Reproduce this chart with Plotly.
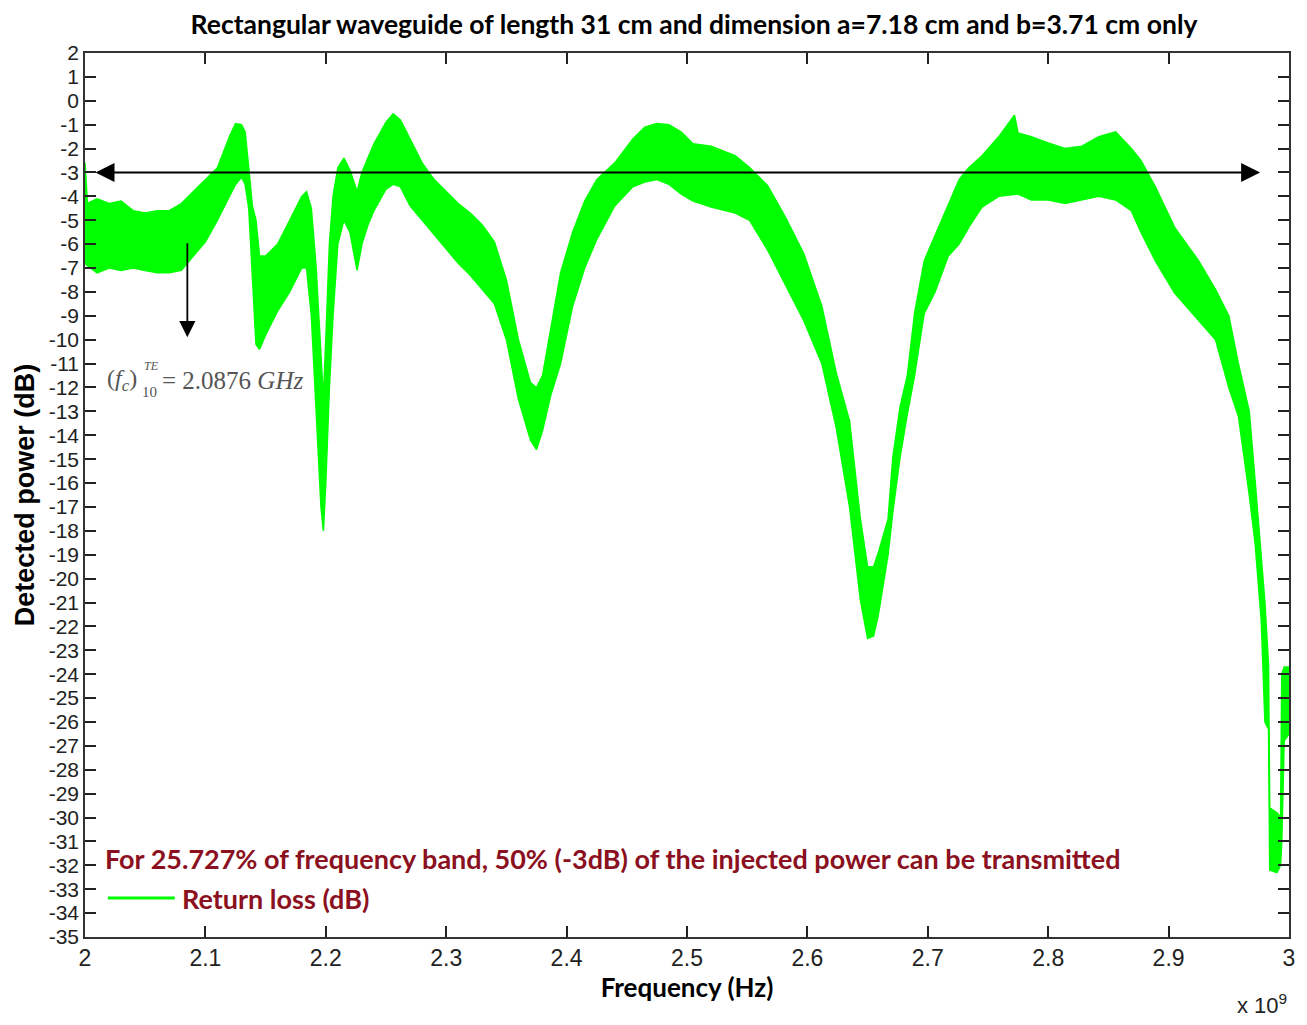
import plotly.graph_objects as go

# Frequency in units of 1e9 Hz
freq = [2.000, 2.002, 2.010, 2.020, 2.030, 2.040, 2.050, 2.060, 2.070, 2.080,
        2.090, 2.100, 2.110, 2.120, 2.125, 2.130, 2.133, 2.136, 2.139, 2.142,
        2.145, 2.150, 2.160, 2.170, 2.180, 2.184, 2.188, 2.192, 2.196, 2.198,
        2.200, 2.203, 2.206, 2.210, 2.215, 2.220, 2.226, 2.230, 2.235, 2.240,
        2.250, 2.256, 2.262, 2.270, 2.280, 2.290, 2.300, 2.310, 2.320, 2.330,
        2.340, 2.350, 2.360, 2.370, 2.375, 2.380, 2.387, 2.395, 2.405, 2.415,
        2.425, 2.440, 2.455, 2.465, 2.475, 2.485, 2.495, 2.505, 2.520, 2.540,
        2.552, 2.567, 2.582, 2.597, 2.612, 2.624, 2.635, 2.644, 2.650, 2.655,
        2.659, 2.667, 2.671, 2.677, 2.683, 2.689, 2.697, 2.706, 2.717, 2.726,
        2.734, 2.745, 2.759, 2.772, 2.775, 2.786, 2.800, 2.814, 2.828, 2.842,
        2.856, 2.869, 2.877, 2.889, 2.905, 2.925, 2.939, 2.950, 2.958, 2.967,
        2.972, 2.977, 2.980, 2.983, 2.984, 2.990, 2.993, 2.994, 2.996, 3.000]

# Upper and lower envelope of the (densely oscillating) return-loss trace, dB
upper = [-2.6, -4.3, -4.1, -4.3, -4.2, -4.6, -4.7, -4.6, -4.6, -4.3,
         -3.8, -3.3, -2.8, -1.5, -0.95, -1.0, -1.3, -2.8, -4.4, -5.0,
         -6.5, -6.5, -6.0, -5.0, -4.0, -3.8, -4.5, -7.0, -11.0, -12.5,
         -10.0, -6.0, -4.0, -2.8, -2.4, -2.9, -3.8, -3.0, -2.4, -1.8,
         -0.9, -0.55, -0.8, -1.6, -2.6, -3.3, -3.8, -4.3, -4.7, -5.2,
         -5.9, -7.5, -10.0, -11.8, -12.0, -11.5, -9.5, -7.2, -5.5, -4.2,
         -3.3, -2.6, -1.6, -1.1, -0.95, -1.0, -1.3, -1.8, -1.9, -2.3,
         -2.8, -3.55, -4.9, -6.4, -8.6, -11.4, -13.4, -17.5, -19.5, -19.5,
         -18.9, -17.5, -14.9, -12.8, -11.5, -8.9, -6.7, -5.65, -4.3, -3.3,
         -2.8, -2.3, -1.5, -0.6, -1.35, -1.5, -1.77, -2.0, -1.9, -1.5,
         -1.3, -2.0, -2.5, -3.6, -5.3, -6.7, -7.9, -9.0, -11.0, -13.0,
         -16.0, -19.0, -21.0, -23.6, -29.6, -29.8, -30.0, -24.0, -23.7, -23.7]

lower = [-6.8, -6.9, -7.2, -7.0, -7.1, -7.0, -7.1, -7.2, -7.2, -7.1,
         -6.5, -5.9, -5.0, -4.0, -3.5, -3.2, -3.5, -4.5, -7.5, -10.2,
         -10.4, -9.8, -8.8, -8.0, -7.0, -7.0, -9.0, -13.0, -17.0, -18.0,
         -16.0, -12.0, -9.0, -6.0, -5.0, -5.5, -7.1, -6.0, -5.2, -4.6,
         -3.7, -3.5, -3.6, -4.4, -5.0, -5.6, -6.2, -6.8, -7.3, -7.9,
         -8.5, -10.0, -12.5, -14.2, -14.6, -13.8, -12.3, -11.0, -8.6, -7.0,
         -5.8, -4.4, -3.6, -3.4, -3.3, -3.5, -3.9, -4.2, -4.45, -4.7,
         -5.0, -6.25, -7.75, -9.2, -11.0, -13.7, -17.0, -20.9, -22.5, -22.4,
         -21.5, -19.0, -17.2, -14.9, -13.1, -11.5, -8.9, -8.0, -6.5, -6.0,
         -5.3, -4.45, -4.0, -3.9, -3.9, -4.15, -4.15, -4.3, -4.15, -4.0,
         -4.15, -4.6, -5.5, -6.7, -8.05, -9.2, -10.0, -12.0, -13.2, -16.5,
         -18.6, -21.8, -26.0, -26.3, -32.2, -32.3, -32.0, -31.0, -26.8, -26.5]

x_ticks = [2.0, 2.1, 2.2, 2.3, 2.4, 2.5, 2.6, 2.7, 2.8, 2.9, 3.0]
x_labels = ["2", "2.1", "2.2", "2.3", "2.4", "2.5", "2.6", "2.7", "2.8", "2.9", "3"]
y_ticks = list(range(-35, 3))
y_labels = [str(v) for v in y_ticks]

half_power_level = -3
cutoff_freq = 2.0876

GREEN = "#00ff00"
DARKRED = "#8b1020"
TICKFONT = "Liberation Sans Narrow, Liberation Sans, Arial, sans-serif"
BOLDFONT = "Lato, Liberation Sans, sans-serif"

fig = go.Figure()
fig.add_trace(go.Scatter(x=freq, y=lower, mode="lines",
                         line=dict(color=GREEN, width=1.5),
                         showlegend=False, hoverinfo="skip"))
fig.add_trace(go.Scatter(x=freq, y=upper, mode="lines",
                         line=dict(color=GREEN, width=1.5),
                         fill="tonexty", fillcolor=GREEN,
                         name="Return loss (dB)", showlegend=False))

# -3 dB double-headed arrow
fig.add_annotation(x=2.976, y=half_power_level, ax=2.0075, ay=half_power_level,
                   xref="x", yref="y", axref="x", ayref="y", text="",
                   showarrow=True, arrowhead=2, startarrowhead=2,
                   arrowside="end+start", arrowsize=1.9, startarrowsize=1.9,
                   arrowwidth=2, arrowcolor="black")
# cutoff vertical arrow
fig.add_annotation(x=2.085, y=-9.9, ax=2.085, ay=-5.9,
                   xref="x", yref="y", axref="x", ayref="y", text="",
                   showarrow=True, arrowhead=2, arrowsize=1.8,
                   arrowwidth=1.8, arrowcolor="black")

# cutoff formula
SERIF = "Liberation Serif, Times New Roman, serif"
fig.add_annotation(x=2.0166, y=-11.69, xref="x", yref="y", xanchor="left",
                   text="(<i>f<sub>c</sub></i>)", showarrow=False,
                   font=dict(family=SERIF, size=24, color="#555555"))
fig.add_annotation(x=2.047, y=-11.1, xref="x", yref="y", xanchor="left",
                   text="<i>TE</i>", showarrow=False,
                   font=dict(family=SERIF, size=12, color="#555555"))
fig.add_annotation(x=2.046, y=-12.2, xref="x", yref="y", xanchor="left",
                   text="10", showarrow=False,
                   font=dict(family=SERIF, size=15, color="#555555"))
fig.add_annotation(x=2.0625, y=-11.69, xref="x", yref="y", xanchor="left",
                   text="= 2.0876 <i>GHz</i>", showarrow=False,
                   font=dict(family=SERIF, size=25, color="#555555"))

# statement text
fig.add_annotation(x=2.0149, y=-31.7, xref="x", yref="y", xanchor="left",
                   text="<b>For 25.727% of frequency band, 50% (-3dB) of the injected power can be transmitted</b>",
                   showarrow=False, font=dict(family=BOLDFONT, size=27, color=DARKRED))
# legend
fig.add_shape(type="line", x0=2.019, x1=2.0746, y0=-33.37, y1=-33.37,
              xref="x", yref="y", line=dict(color=GREEN, width=3))
fig.add_annotation(x=2.0788, y=-33.37, xref="x", yref="y", xanchor="left",
                   text="<b>Return loss (dB)</b>", showarrow=False,
                   font=dict(family=BOLDFONT, size=27, color=DARKRED))

# x10^9 multiplier
fig.add_annotation(x=1.0, y=-0.094, xref="paper", yref="paper", xanchor="right",
                   text="x 10<sup>9</sup>", showarrow=False,
                   font=dict(family=TICKFONT, size=22, color="#222222"))

fig.update_layout(
    width=1307, height=1025,
    margin=dict(l=85, r=16, t=53, b=88),
    paper_bgcolor="white", plot_bgcolor="white",
    title=dict(text="<b>Rectangular waveguide of length 31 cm and dimension a=7.18 cm and b=3.71 cm only</b>",
               x=0.531, xanchor="center", y=0.9756, yanchor="middle",
               font=dict(family=BOLDFONT, size=26.5, color="black")),
    showlegend=False,
)
fig.update_xaxes(range=[2, 3], tickvals=x_ticks, ticktext=x_labels,
                 ticks="inside", ticklen=11, tickwidth=1.5, tickcolor="#222222",
                 showline=True, linecolor="#333333", linewidth=1.5, mirror="ticks",
                 showgrid=False, zeroline=False,
                 tickfont=dict(family=TICKFONT, size=23, color="#222222"),
                 title=dict(text="<b>Frequency (Hz)</b>", standoff=4,
                            font=dict(family=BOLDFONT, size=26, color="black")))
fig.update_yaxes(range=[-35, 2], tickvals=y_ticks, ticktext=y_labels,
                 ticks="inside", ticklen=11, tickwidth=1.5, tickcolor="#222222",
                 showline=True, linecolor="#333333", linewidth=1.5, mirror="ticks",
                 showgrid=False, zeroline=False,
                 tickfont=dict(family=TICKFONT, size=21, color="#222222"),
                 title=dict(text="<b>Detected power (dB)</b>", standoff=6,
                            font=dict(family="Liberation Sans, Arial, sans-serif", size=27, color="black")))

fig.write_html("out.html")
